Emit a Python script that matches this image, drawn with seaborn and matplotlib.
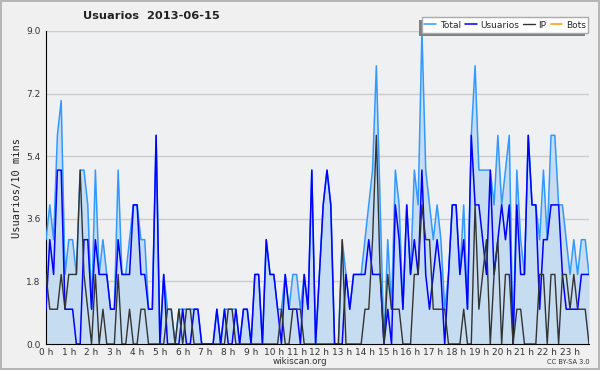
import numpy as np
import pandas as pd
import matplotlib
matplotlib.use("Agg")
import matplotlib.pyplot as plt
import seaborn as sns
from matplotlib.ticker import MultipleLocator
from matplotlib.patches import Rectangle

title = "Usuarios  2013-06-15"
ylabel = "Usuarios/10 mins"
hour_labels = [f"{h} h" for h in range(24)]
series_names = ["Total", "Usuarios", "IP", "Bots"]

usuarios = [1,3,2,5,5,1,1,1,0,0,3,3,1,3,2,2,2,1,1,3,2,2,2,4,
            4,2,2,1,1,6,0,2,0,0,0,0,1,0,0,1,1,0,0,0,0,1,0,1,
            0,0,1,0,1,1,0,2,2,0,3,2,2,1,0,2,1,1,1,0,2,1,5,0,
            2,4,5,4,0,0,0,2,1,2,2,2,2,3,2,2,2,0,1,0,4,3,1,4,
            2,3,2,5,2,1,2,3,2,0,2,4,4,2,3,1,6,4,4,3,2,5,2,3,
            4,3,4,0,4,2,2,6,4,4,1,3,3,4,4,4,2,1,1,1,1,2,2,2]
ip =       [2,1,1,1,2,1,2,2,2,5,2,1,0,2,0,1,0,0,0,2,0,0,1,0,
            0,1,1,0,0,0,0,0,1,1,0,1,0,1,1,0,0,0,0,0,0,0,0,0,
            1,1,0,0,0,0,0,0,0,0,0,0,0,0,1,0,0,1,1,1,0,0,0,0,
            0,0,0,0,0,0,3,0,0,0,0,0,1,1,3,6,2,0,2,1,1,1,0,0,
            0,2,2,4,3,3,1,1,1,1,0,0,0,0,1,0,0,4,1,2,3,0,2,3,
            0,2,2,0,1,1,0,0,0,0,2,2,0,2,2,0,2,2,1,2,1,1,1,0]
total =    [3,4,3,6,7,2,3,3,2,5,5,4,1,5,2,3,2,1,1,5,2,2,3,4,
            4,3,3,1,1,6,0,2,1,1,0,1,1,1,1,1,1,0,0,0,0,1,0,1,
            1,1,1,0,1,1,0,2,2,0,3,2,2,1,1,2,1,2,2,1,2,1,5,0,
            2,4,5,4,0,0,3,2,1,2,2,2,3,4,5,8,4,0,3,1,5,4,1,4,
            2,5,4,9,5,4,3,4,3,1,2,4,4,2,4,1,6,8,5,5,5,5,4,6,
            4,5,6,0,5,3,2,6,4,4,3,5,3,6,6,4,4,3,2,3,2,3,3,2]
bots = [0] * 144

n = len(total)
hours = np.arange(n) / 6.0
df = pd.DataFrame({"h": hours, "Total": total, "Usuarios": usuarios, "IP": ip, "Bots": bots})

sns.set_style("white")
plt.rcParams["font.family"] = ["DejaVu Sans"]

W, H = 600, 370
fig = plt.figure(figsize=(6.0, 3.7), dpi=100, facecolor="#f0f0f0")
ax = fig.add_axes([46/W, 1-344/H, (589-46)/W, (344-31)/H])
ax.set_facecolor("#eef0f2")

ax.fill_between(df["h"], 0, df["Total"], color="#c6dcf0", lw=0, zorder=1)
sns.lineplot(data=df, x="h", y="Total", color="#3399ff", lw=1.1, ax=ax, label=series_names[0], zorder=3)
sns.lineplot(data=df, x="h", y="Usuarios", color="#0000ff", lw=1.1, ax=ax, label=series_names[1], zorder=4)
sns.lineplot(data=df, x="h", y="IP", color="#333333", lw=1.0, ax=ax, label=series_names[2], zorder=5)
ax.plot([], [], color="#ff9900", lw=1.1, label=series_names[3])

ax.set_xlim(0, (n - 1) / 6.0)
ax.set_ylim(0, 9.0)
ax.set_yticks([0, 1.8, 3.6, 5.4, 7.2, 9.0])
ax.set_yticklabels(["0.0", "1.8", "3.6", "5.4", "7.2", "9.0"], fontsize=6.5, color="#333333")
ax.yaxis.set_minor_locator(MultipleLocator(0.45))
ax.set_xticks(range(24))
ax.set_xticklabels(hour_labels, fontsize=6.5, color="#333333")
ax.xaxis.set_minor_locator(MultipleLocator(1/6))
ax.tick_params(axis="both", which="major", length=4, width=1, pad=0, direction="out")
ax.tick_params(axis="x", which="major", length=3.5, pad=-0.5)
ax.tick_params(axis="both", which="minor", length=2.5, width=0.8, direction="out")
ax.grid(axis="y", color="#cccccc", lw=1)
ax.set_axisbelow(True)
for side in ["top", "right"]:
    ax.spines[side].set_visible(False)
ax.spines["left"].set_color("black")
ax.spines["bottom"].set_color("black")
ax.set_xlabel("")
ax.set_ylabel(ylabel, fontsize=7.5, family="DejaVu Sans Mono", color="#222222", labelpad=3)

# legend box in figure pixels (from top-left): x 422..588, y 17..33
bx0, bx1, by0, by1 = 422, 588, 17, 33
def px_rect(x0, y0, x1, y1, **kw):
    return Rectangle((x0 / W, 1 - y1 / H), (x1 - x0) / W, (y1 - y0) / H,
                     transform=fig.transFigure, clip_on=False, **kw)

# shadow strips: left side and bottom
ax.add_artist(px_rect(bx0 - 3, by0 + 3, bx0, by1 + 3, facecolor="#808080", edgecolor="none", zorder=6))
ax.add_artist(px_rect(bx0 - 3, by1, bx1 - 3, by1 + 3, facecolor="#808080", edgecolor="none", zorder=6))
ax.add_artist(px_rect(bx0, by0, bx1, by1, facecolor="white", edgecolor="#aaaaaa", lw=1, zorder=7))

leg = ax.legend(loc="center", ncol=4,
                bbox_to_anchor=(bx0/W, 1 - by1/H, (bx1 - bx0)/W, (by1 - by0)/H),
                bbox_transform=fig.transFigure, fontsize=6.5,
                frameon=False, handlelength=1.3, handletextpad=0.4, columnspacing=0.45,
                borderpad=0, borderaxespad=0)
leg.set_zorder(8)

fig.text(151/W, 1-16/H, title, ha="center", va="center", fontsize=8.2, fontweight="bold", color="#222222")
fig.text(300/W, 1-362/H, "wikiscan.org", ha="center", va="center", fontsize=6.3, color="#333333")
fig.text(590/W, 1-362/H, "CC BY-SA 3.0", ha="right", va="center", fontsize=4.8, color="#333333")

border = Rectangle((0.001, 0.002), 0.997, 0.995, transform=fig.transFigure, fill=False,
                   edgecolor="#aaaaaa", lw=1.2)
fig.patches.append(border)

fig.savefig("out.png", dpi=100, facecolor=fig.get_facecolor())
